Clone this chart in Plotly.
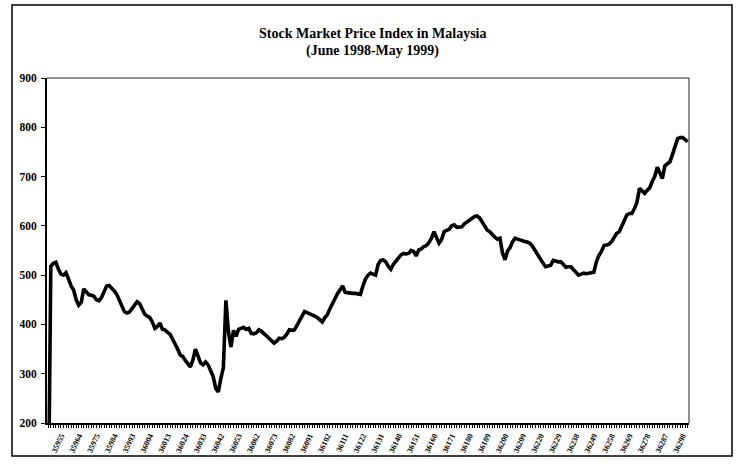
import datetime as dt
import plotly.graph_objects as go

# Excel date serial of first trading day shown, and values per trading day
start_serial = 35948
index_values = [
    0, 518, 524, 526, 512, 502, 500, 505, 492, 478,
    470, 450, 439, 445, 472, 466, 460, 459, 457, 450,
    448, 455, 465, 478, 479, 474, 468, 461, 448, 437,
    426, 423, 425, 432, 440, 446, 442, 430, 421, 417,
    414, 405, 392, 396, 403, 390, 389, 384, 380, 370,
    361, 350, 338, 335, 327, 320, 314, 328, 350, 336,
    322, 318, 324, 318, 305, 294, 270, 263, 290, 312,
    449, 385, 354, 388, 376, 390, 392, 394, 390, 392,
    382, 381, 383, 389, 386, 382, 378, 372, 367, 362,
    366, 372, 371, 374, 380, 389, 388, 389, 398, 408,
    416, 426, 424, 422, 420, 417, 414, 410, 405, 414,
    420, 432, 442, 455, 463, 470, 478, 465, 464, 464,
    463, 463, 462, 461, 478, 492, 500, 504, 502, 500,
    522, 530, 531, 527, 518, 512, 522, 528, 536, 541,
    544, 543, 544, 550, 548, 539, 551, 553, 558, 560,
    566, 575, 588, 578, 565, 572, 588, 591, 593, 600,
    602, 597, 597, 598, 604, 608, 612, 615, 619, 620,
    616, 608, 598, 591, 588, 582, 577, 573, 575, 545,
    531, 549, 556, 568, 575, 573, 571, 570, 568, 567,
    564, 557, 548, 540, 531, 524, 517, 518, 520, 530,
    528, 527, 527, 522, 516, 517, 517, 511, 505, 500,
    502, 504, 503, 504, 505, 506, 527, 540, 548, 560,
    561, 563, 568, 577, 585, 588, 600, 612, 622, 625,
    625, 635, 648, 676, 670, 666, 672, 677, 690, 700,
    719, 705, 696, 722, 725, 730, 745, 762, 777, 779,
    779, 775, 771,
]
tick_labels = [
    35955, 35964, 35975, 35984, 35993, 36004, 36013, 36024, 36033, 36042,
    36053, 36062, 36073, 36082, 36091, 36102, 36111, 36122, 36131, 36140,
    36151, 36160, 36171, 36180, 36189, 36200, 36209, 36220, 36229, 36238,
    36249, 36258, 36269, 36278, 36287, 36298,
]
y_ticks = [200, 300, 400, 500, 600, 700, 800, 900]

# trading days (weekdays) as Excel serials
base = dt.date(1899, 12, 30)
categories = []
s = start_serial
while len(categories) < len(index_values):
    if (base + dt.timedelta(days=s)).weekday() < 5:
        categories.append(str(s))
    s += 1

label_set = {str(t) for t in tick_labels}
ticktext = [c if c in label_set else "" for c in categories]

W, H = 740, 465
L, R, T, B = 47, 689, 78, 423


def px(x):
    return (x - L) / (R - L)


def py(y):
    return (B - y) / (B - T)


fig = go.Figure()
fig.add_trace(go.Scatter(
    x=categories, y=index_values, mode="lines",
    line=dict(color="black", width=3.6), hoverinfo="skip", showlegend=False,
))

serif = "Liberation Serif, Times New Roman, serif"

fig.update_layout(
    width=W, height=H,
    margin=dict(l=L, r=W - R, t=T, b=H - B, pad=0),
    paper_bgcolor="white", plot_bgcolor="white",
    showlegend=False,
    xaxis=dict(
        type="category", range=[-0.5, len(categories) - 0.5],
        tickmode="array", tickvals=categories, ticktext=ticktext,
        tickangle=-65, ticks="outside", ticklen=3, tickwidth=1, tickcolor="black",
        tickfont=dict(family=serif, size=8, color="black", weight="bold"),
        showline=True, linecolor="black", linewidth=2,
        showgrid=False, zeroline=False, fixedrange=True,
    ),
    yaxis=dict(
        range=[200, 900], tickmode="array", tickvals=y_ticks,
        ticks="outside", ticklen=4, tickwidth=1, tickcolor="black",
        tickfont=dict(family=serif, size=11.5, color="black", weight="bold"),
        ticklabelstandoff=2,
        showline=True, linecolor="black", linewidth=2,
        showgrid=False, zeroline=False, fixedrange=True,
    ),
    annotations=[
        dict(text="<b>Stock Market Price Index in Malaysia</b>", xref="paper", yref="paper",
             x=px(372), y=py(33), showarrow=False, xanchor="center", yanchor="middle",
             font=dict(family=serif, size=14, color="black")),
        dict(text="<b>(June 1998-May 1999)</b>", xref="paper", yref="paper",
             x=px(372), y=py(51), showarrow=False, xanchor="center", yanchor="middle",
             font=dict(family=serif, size=14, color="black")),
    ],
    shapes=[
        # outer chart frame
        dict(type="rect", xref="paper", yref="paper",
             x0=px(12), x1=px(732), y0=py(456), y1=py(5),
             line=dict(color="black", width=1.5), fillcolor="rgba(0,0,0,0)"),
        # plot area top and right borders
        dict(type="line", xref="paper", yref="paper", x0=0, x1=1, y0=1, y1=1,
             line=dict(color="#222", width=1)),
        dict(type="line", xref="paper", yref="paper", x0=1, x1=1, y0=0, y1=1,
             line=dict(color="#222", width=1)),
    ],
)

fig.write_html("out.html", config={"displayModeBar": False})

# remove the browser's default page margin so the figure sits at (0, 0)
with open("out.html", "r", encoding="utf-8") as f:
    html = f.read()
html = html.replace("<body>", '<body style="margin:0;padding:0;">', 1)
with open("out.html", "w", encoding="utf-8") as f:
    f.write(html)
